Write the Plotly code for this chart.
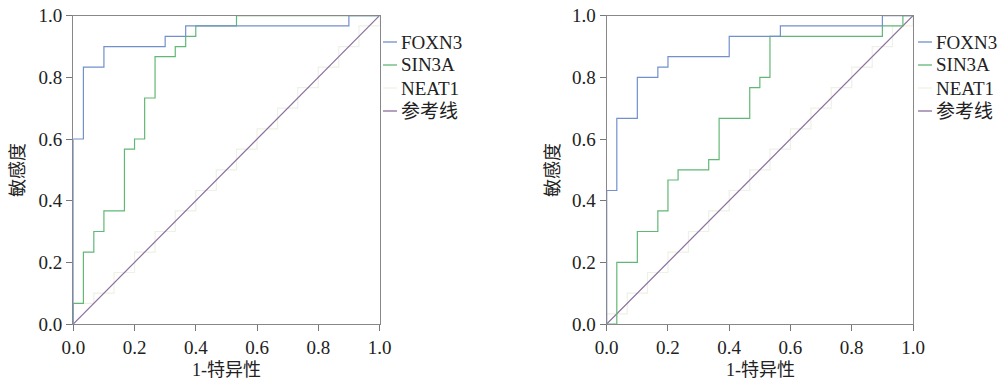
import plotly.graph_objects as go

# ---------------- data ----------------
# Left panel
left_foxn3_fpr = [0, 0, 0.033, 0.1, 0.3, 0.367, 0.9, 1]
left_foxn3_tpr = [0, 0.6, 0.833, 0.9, 0.933, 0.967, 1, 1]
left_sin3a_fpr = [0, 0, 0.033, 0.067, 0.1, 0.167, 0.2, 0.233, 0.267, 0.333, 0.367, 0.4, 0.533, 1]
left_sin3a_tpr = [0, 0.067, 0.233, 0.3, 0.367, 0.567, 0.6, 0.733, 0.867, 0.9, 0.933, 0.967, 1, 1]
left_neat1_fpr = [0, 0, 0.067, 0.133, 0.2, 0.267, 0.333, 0.4, 0.467, 0.533, 0.6, 0.667, 0.733, 0.8, 0.867, 0.933, 1]
left_neat1_tpr = [0, 0.067, 0.1, 0.167, 0.233, 0.3, 0.367, 0.433, 0.5, 0.567, 0.633, 0.7, 0.767, 0.833, 0.9, 0.967, 1]

# Right panel
right_foxn3_fpr = [0, 0, 0.033, 0.1, 0.167, 0.2, 0.4, 0.567, 0.9, 1]
right_foxn3_tpr = [0, 0.433, 0.667, 0.8, 0.833, 0.867, 0.933, 0.967, 1, 1]
right_sin3a_fpr = [0, 0.033, 0.1, 0.167, 0.2, 0.233, 0.333, 0.367, 0.467, 0.5, 0.533, 0.9, 0.967, 1]
right_sin3a_tpr = [0, 0.2, 0.3, 0.367, 0.467, 0.5, 0.533, 0.667, 0.767, 0.8, 0.933, 0.967, 1, 1]
right_neat1_fpr = [0, 0, 0.067, 0.133, 0.2, 0.267, 0.333, 0.4, 0.467, 0.533, 0.6, 0.667, 0.733, 0.8, 0.867, 0.933, 1]
right_neat1_tpr = [0, 0.033, 0.1, 0.167, 0.233, 0.3, 0.367, 0.433, 0.5, 0.567, 0.633, 0.7, 0.767, 0.833, 0.9, 0.967, 1]

ref_line = [0, 1]

series_names = ["FOXN3", "SIN3A", "NEAT1", "参考线"]
tick_vals = [0, 0.2, 0.4, 0.6, 0.8, 1.0]
x_title = "1-特异性"
y_title = "敏感度"

# ---------------- style ----------------
colors = {"FOXN3": "#7290cc", "SIN3A": "#62b776", "NEAT1": "#eef1e6", "参考线": "#8b6e9c"}
FONT = "Liberation Serif, Times New Roman, Noto Sans CJK SC, serif"
W, H = 1006, 383

fig = go.Figure()

panels = [
    ("x", "y", [(left_foxn3_fpr, left_foxn3_tpr, "FOXN3"),
                (left_sin3a_fpr, left_sin3a_tpr, "SIN3A"),
                (left_neat1_fpr, left_neat1_tpr, "NEAT1")]),
    ("x2", "y2", [(right_foxn3_fpr, right_foxn3_tpr, "FOXN3"),
                  (right_sin3a_fpr, right_sin3a_tpr, "SIN3A"),
                  (right_neat1_fpr, right_neat1_tpr, "NEAT1")]),
]

for xa, ya, curves in panels:
    fx, ty, name = curves[2]
    fig.add_trace(go.Scatter(x=fx, y=ty, mode="lines", line=dict(color=colors[name], width=1.2, shape="hv"),
                             xaxis=xa, yaxis=ya, showlegend=False, hoverinfo="skip"))
    fig.add_trace(go.Scatter(x=ref_line, y=ref_line, mode="lines", line=dict(color=colors["参考线"], width=1.2),
                             xaxis=xa, yaxis=ya, showlegend=False, hoverinfo="skip"))
    for fx, ty, name in [curves[1], curves[0]]:
        fig.add_trace(go.Scatter(x=fx, y=ty, mode="lines", line=dict(color=colors[name], width=1.2, shape="hv"),
                                 xaxis=xa, yaxis=ya, showlegend=False, hoverinfo="skip"))

def px_x(p):
    return p / W

def px_y(p):
    return (H - p) / H

y_dom = [px_y(324), px_y(15.7)]
axis_common = dict(range=[0, 1], tickvals=tick_vals, tickformat=".1f", ticks="outside", ticklen=6,
                   tickcolor="#777", showline=True, linecolor="#888", linewidth=1.3, mirror=True,
                   showgrid=False, zeroline=False, automargin=False, ticklabeloverflow="allow",
                   tickfont=dict(family=FONT, size=19, color="#222"), fixedrange=True)

fig.update_layout(
    template="none",
    width=W, height=H,
    margin=dict(l=0, r=0, t=0, b=0, pad=0),
    plot_bgcolor="white", paper_bgcolor="white",
    xaxis=dict(domain=[px_x(73.3), px_x(379.5)], anchor="y", **axis_common),
    yaxis=dict(domain=y_dom, anchor="x", **axis_common),
    xaxis2=dict(domain=[px_x(606.7), px_x(913)], anchor="y2", **axis_common),
    yaxis2=dict(domain=y_dom, anchor="x2", **axis_common),
    showlegend=False,
)

annotations = []
shapes = []
# axis titles
for xc in [226, 760]:
    annotations.append(dict(text=x_title, x=px_x(xc), y=px_y(370), xref="paper", yref="paper",
                            showarrow=False, xanchor="center", yanchor="middle",
                            font=dict(family=FONT, size=18, color="#222")))
for xc in [18, 553]:
    annotations.append(dict(text=y_title, x=px_x(xc), y=px_y(170), xref="paper", yref="paper",
                            showarrow=False, xanchor="center", yanchor="middle", textangle=-90,
                            font=dict(family=FONT, size=18, color="#222")))

# manual legends
leg_rows = [42, 65, 88, 111]
for x0 in [383, 918]:
    for name, yr in zip(series_names, leg_rows):
        shapes.append(dict(type="line", xref="paper", yref="paper", x0=px_x(x0), x1=px_x(x0 + 14),
                           y0=px_y(yr), y1=px_y(yr), line=dict(color=colors[name], width=1.3)))
        annotations.append(dict(text=name, x=px_x(x0 + 16), y=px_y(yr), xref="paper", yref="paper",
                                showarrow=False, xanchor="left", yanchor="middle",
                                font=dict(family=FONT, size=19, color="#222")))

fig.update_layout(annotations=annotations, shapes=shapes)
fig.write_html("out.html", config={"displayModeBar": False},
               post_script="document.body.style.margin='0px';document.body.style.overflow='hidden';")
